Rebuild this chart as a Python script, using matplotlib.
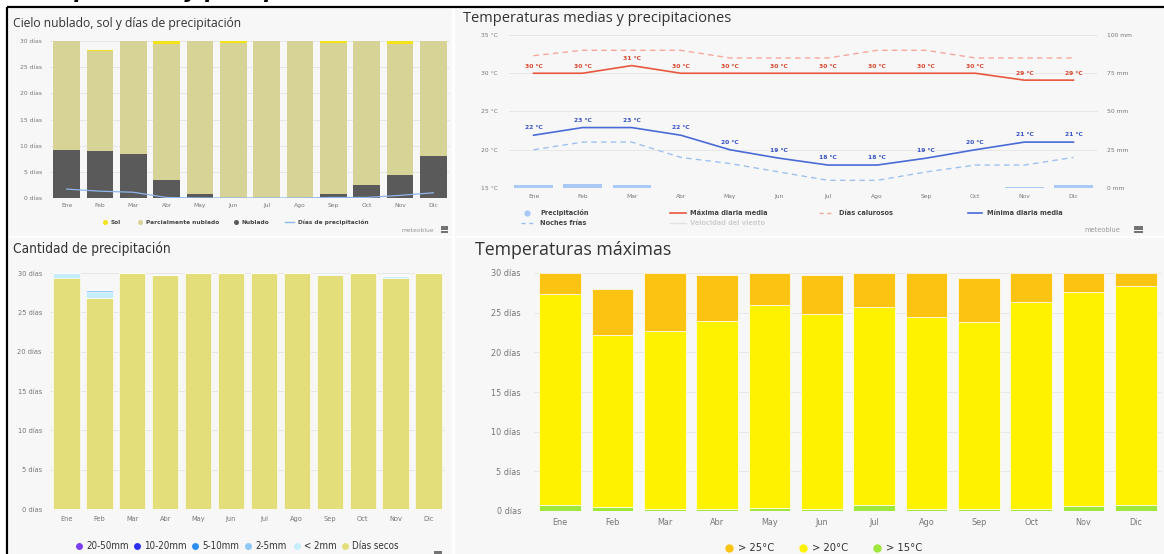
import matplotlib
matplotlib.use('Agg')
import matplotlib.pyplot as plt
from matplotlib import font_manager
from matplotlib.patches import Rectangle
import numpy as np

# ---------------- data ----------------
meses = ['Ene', 'Feb', 'Mar', 'Abr', 'May', 'Jun', 'Jul', 'Ago', 'Sep', 'Oct', 'Nov', 'Dic']

# Cielo nublado, sol y días de precipitación (días)
nublado = [9.1, 8.9, 8.5, 3.4, 0.7, 0.0, 0.0, 0.0, 0.8, 2.5, 4.4, 8.0]
parcial = [20.9, 19.1, 21.5, 26.1, 29.3, 29.7, 30.0, 30.0, 28.8, 27.5, 25.1, 22.0]
sol = [0.0, 0.2, 0.0, 0.5, 0.0, 0.3, 0.0, 0.0, 0.4, 0.0, 0.5, 0.0]
dias_precip = [1.7, 1.3, 1.1, 0.1, 0.0, 0.0, 0.0, 0.0, 0.1, 0.1, 0.5, 1.0]

# Temperaturas medias y precipitaciones
t_max = [30.0, 30.0, 31.0, 30.0, 30.0, 30.0, 30.0, 30.0, 30.0, 30.0, 29.1, 29.1]
dias_calurosos = [32.3, 33.0, 33.0, 33.0, 32.0, 32.0, 32.0, 33.0, 33.0, 32.0, 32.0, 32.0]
t_min = [21.9, 22.9, 22.9, 21.9, 20.0, 18.9, 18.0, 18.0, 18.9, 20.0, 21.0, 21.0]
noches_frias = [20.0, 21.0, 21.0, 19.0, 18.2, 17.1, 16.0, 16.0, 17.1, 18.0, 18.0, 19.0]
precip_mm = [1.8, 2.8, 1.8, 0.0, 0.0, 0.0, 0.0, 0.0, 0.0, 0.0, 0.6, 1.8]

# Cantidad de precipitación (días)
dias_secos = [29.4, 26.8, 30.0, 29.8, 30.0, 30.0, 30.0, 30.0, 29.8, 30.0, 29.4, 30.0]
menos_2mm = [0.6, 0.8, 0.0, 0.0, 0.0, 0.0, 0.0, 0.0, 0.1, 0.0, 0.2, 0.0]
mm_2_5 = [0.0, 0.2, 0.0, 0.0, 0.0, 0.0, 0.0, 0.0, 0.0, 0.0, 0.0, 0.0]
mm_5_10 = [0.0] * 12
mm_10_20 = [0.0] * 12
mm_20_50 = [0.0] * 12

# Temperaturas máximas (días)
sobre_15 = [0.8, 0.5, 0.3, 0.2, 0.4, 0.3, 0.7, 0.2, 0.2, 0.3, 0.6, 0.8]
sobre_20 = [26.5, 21.7, 22.4, 23.8, 25.6, 24.5, 25.0, 24.3, 23.6, 26.1, 27.0, 27.5]
sobre_25 = [2.7, 5.8, 7.3, 5.7, 4.0, 4.9, 4.3, 5.5, 5.6, 3.6, 2.4, 1.7]

# ---------------- fonts ----------------
_ttf = font_manager.fontManager.ttflist
_names = {f.name for f in _ttf}
NARROW = None
for f in _ttf:
    st = str(f.stretch)
    if ('Narrow' in f.name or 'Condensed' in f.name or st in ('condensed', 'semi-condensed')) \
            and 'Mono' not in f.name and 'Serif' not in f.name and str(f.style) == 'normal':
        NARROW = dict(family=f.name, stretch=st if st != 'normal' else 'normal')
        break
if NARROW is None:
    NARROW = dict(family='Liberation Sans') if 'Liberation Sans' in _names else dict(family='DejaVu Sans')
OPEN = dict(family='Open Sans') if 'Open Sans' in _names else dict(family='DejaVu Sans')

# ---------------- figure ----------------
W, H = 1164, 554
fig = plt.figure(figsize=(W / 100, H / 100), dpi=100, facecolor='white')


def rect(x0, y0, x1, y1):
    return [x0 / W, 1 - y1 / H, (x1 - x0) / W, (y1 - y0) / H]


bg = fig.add_axes([0, 0, 1, 1])
bg.set_xlim(0, W)
bg.set_ylim(H, 0)
bg.axis('off')

PANEL = '#f7f7f7'
for (x0, y0, x1, y1) in [(9, 9, 452, 236), (455, 9, W, 236), (9, 238, 452, H), (455, 238, W, H)]:
    bg.add_patch(Rectangle((x0, y0), x1 - x0, y1 - y0, facecolor=PANEL, edgecolor='none'))
bg.plot([7, W], [6.5, 6.5], color='black', lw=1.6, solid_capstyle='butt')
bg.plot([7, 7], [6.5, H], color='black', lw=1.6, solid_capstyle='butt')
bg.text(27, -2.2, 'Temperatura y precipitación', fontsize=15, fontweight='bold',
        fontstyle='italic', va='baseline', ha='left', color='black')

x = np.arange(12)


def style(ax, ylim, yticks, ylabels, fs, ypad, xpad, font=None, color='#777777'):
    ax.set_xlim(-0.5, 11.5)
    ax.set_ylim(*ylim)
    ax.set_yticks(yticks)
    ax.set_yticklabels(ylabels)
    ax.set_xticks(x)
    ax.set_xticklabels(meses)
    ax.tick_params(length=0, labelsize=fs, labelcolor=color)
    ax.tick_params(axis='y', pad=ypad)
    ax.tick_params(axis='x', pad=xpad)
    for s in ax.spines.values():
        s.set_visible(False)
    ax.grid(axis='y', color='#e4e4e4', lw=0.6)
    ax.set_axisbelow(True)
    ax.patch.set_visible(False)
    if font:
        for lbl in ax.get_xticklabels() + ax.get_yticklabels():
            lbl.set(**font)


def menu_icon(xc, yc, w=10, color='#666666'):
    for dy in (-2.5, 0, 2.5):
        bg.plot([xc - w / 2, xc + w / 2], [yc + dy, yc + dy], color=color, lw=1.3,
                solid_capstyle='butt')


def dot(xc, yc, color, ms):
    bg.plot([xc], [yc], 'o', color=color, ms=ms, mec='none')


# ======== Panel 1: Cielo nublado ========
bg.text(13, 24, 'Cielo nublado, sol y días de precipitación', fontsize=8.7, color='#333333',
        va='center', ha='left', **OPEN)
ax1 = fig.add_axes(rect(50, 41, 450, 198))
nb = np.array(nublado)
pc = np.array(parcial)
ax1.bar(x, nublado, 0.8, color='#5a5a5a')
ax1.bar(x, parcial, 0.8, bottom=nb, color='#d7d296')
ax1.bar(x, sol, 0.8, bottom=nb + pc, color='#f3e31b')
ax1.plot(x, dias_precip, color='#8db6ea', lw=0.9)
style(ax1, (0, 30), range(0, 31, 5), [f'{v} días' for v in range(0, 31, 5)], 4.3, 5.8, 3.4)

for xc, col, lab in [(105, '#f3e31b', 'Sol'), (140, '#d7d296', 'Parcialmente nublado'),
                     (236, '#5a5a5a', 'Nublado')]:
    dot(xc, 222, col, 3.6)
    bg.text(xc + 6, 222, lab, fontsize=4.2, fontweight='bold', color='#444444', va='center')
bg.plot([285, 294], [222, 222], color='#8db6ea', lw=1)
bg.text(298, 222, 'Días de precipitación', fontsize=4.2, fontweight='bold', color='#444444',
        va='center')
bg.text(434, 230, 'meteoblue', fontsize=4.3, color='#999999', va='center', ha='right')
menu_icon(444, 229, 7)

# ======== Panel 2: Temperaturas medias ========
bg.text(463, 18, 'Temperaturas medias y precipitaciones', fontsize=10.5, color='#333333',
        va='center', ha='left', **OPEN)
ax2 = fig.add_axes(rect(509, 35, 1098, 188))
ax2r = ax2.twinx()
ax2.set_zorder(ax2r.get_zorder() + 1)
ax2r.bar(x, precip_mm, 0.78, color='#aac9f7')
ax2r.set_ylim(0, 100)
ax2r.set_yticks([0, 25, 50, 75, 100])
ax2r.set_yticklabels([f'{v} mm' for v in [0, 25, 50, 75, 100]])
ax2r.tick_params(length=0, labelsize=4.3, labelcolor='#777777', pad=6.5)
for s in ax2r.spines.values():
    s.set_visible(False)

style(ax2, (15, 35), [15, 20, 25, 30, 35], [f'{v} °C' for v in [15, 20, 25, 30, 35]],
      4.3, 8, 4.3)
ax2.plot(x, dias_calurosos, color='#f6a79d', lw=1.0, dashes=(4, 3))
ax2.plot(x, noches_frias, color='#9fc1f2', lw=1.0, dashes=(4, 3))
ax2.plot(x, t_max, color='#e8583f', lw=1.2)
ax2.plot(x, t_min, color='#4a6ad8', lw=1.2)
for xi, v in zip(x, t_max):
    ax2.annotate(f'{round(v)} °C', (xi, v), xytext=(0, 4.8), textcoords='offset points',
                 ha='center', va='center', fontsize=4.3, fontweight='bold', color='#d7442b')
for xi, v in zip(x, t_min):
    ax2.annotate(f'{round(v)} °C', (xi, v), xytext=(0, 5.2), textcoords='offset points',
                 ha='center', va='center', fontsize=4.3, fontweight='bold', color='#3452c4')

L2 = dict(fontsize=4.8, fontweight='bold', color='#444444', va='center')
dot(527, 213, '#aac9f7', 4.5)
bg.text(540, 213, 'Precipitación', **L2)
bg.plot([670, 686], [213, 213], color='#e8583f', lw=1.2)
bg.text(690, 213, 'Máxima diaria media', **L2)
bg.plot([819, 832], [213, 213], color='#f6a79d', lw=1.0, dashes=(3, 2.5))
bg.text(839, 213, 'Días calurosos', **L2)
bg.plot([968, 982], [213, 213], color='#4a6ad8', lw=1.2)
bg.text(987, 213, 'Mínima diaria media', **L2)
bg.plot([521, 534], [223, 223], color='#9fc1f2', lw=1.0, dashes=(3, 2.5))
bg.text(540, 223, 'Noches frías', **L2)
bg.plot([670, 686], [223, 223], color='#e2e2e2', lw=1.0)
bg.text(690, 223, 'Velocidad del viento', fontsize=4.8, fontweight='bold', color='#d0d0d0',
        va='center')
bg.text(1120, 230, 'meteoblue', fontsize=4.8, color='#999999', va='center', ha='right')
menu_icon(1138, 229, 9)

# ======== Panel 3: Cantidad de precipitación ========
bg.text(13, 249, 'Cantidad de precipitación', fontsize=9.8, color='#333333', va='center',
        ha='left', **NARROW)
ax3 = fig.add_axes(rect(50, 273, 445, 509))
prec_cols = ['#e3de7a', '#c6edfa', '#8ec8f5', '#2e8ff2', '#2b2ff2', '#7b3ff0']
bottom = np.zeros(12)
for serie, col in zip([dias_secos, menos_2mm, mm_2_5, mm_5_10, mm_10_20, mm_20_50], prec_cols):
    ax3.bar(x, serie, 0.8, bottom=bottom, color=col, edgecolor='white', linewidth=0.4)
    bottom += np.array(serie)
style(ax3, (0, 30), range(0, 31, 5), [f'{v} días' for v in range(0, 31, 5)], 5.3, 5.8, 5.0,
      font=NARROW)

for xc, col, lab in [(79, '#7b3ff0', '20-50mm'), (137, '#2b2ff2', '10-20mm'),
                     (195, '#2e8ff2', '5-10mm'), (248, '#8ec8f5', '2-5mm'),
                     (297, '#c6edfa', '< 2mm'), (345, '#e3de7a', 'Días secos')]:
    dot(xc, 546, col, 5)
    bg.text(xc + 7, 546, lab, fontsize=7, color='#333333', va='center', **NARROW)
menu_icon(438, 554, 8)

# ======== Panel 4: Temperaturas máximas ========
bg.text(475, 250, 'Temperaturas máximas', fontsize=12.8, color='#333333', va='center',
        ha='left', **OPEN)
ax4 = fig.add_axes(rect(534, 273, 1162, 511))
b15 = np.array(sobre_15)
b20 = np.array(sobre_20)
ax4.bar(x, sobre_15, 0.8, color='#9de83a', edgecolor='white', linewidth=0.5)
ax4.bar(x, sobre_20, 0.8, bottom=b15, color='#fff200', edgecolor='white', linewidth=0.5)
ax4.bar(x, sobre_25, 0.8, bottom=b15 + b20, color='#fdc313', edgecolor='white', linewidth=0.5)
style(ax4, (0, 30), range(0, 31, 5), [f'{v} días' for v in range(0, 31, 5)], 6.5, 9.4, 5.0,
      font=NARROW)

for xc, col, lab in [(729, '#fdc313', '> 25°C'), (803, '#fff200', '> 20°C'),
                     (877, '#9de83a', '> 15°C')]:
    dot(xc, 548, col, 6)
    bg.text(xc + 9, 548, lab, fontsize=8, color='#333333', va='center', **NARROW)

fig.savefig('out.png', dpi=100, facecolor='white')
